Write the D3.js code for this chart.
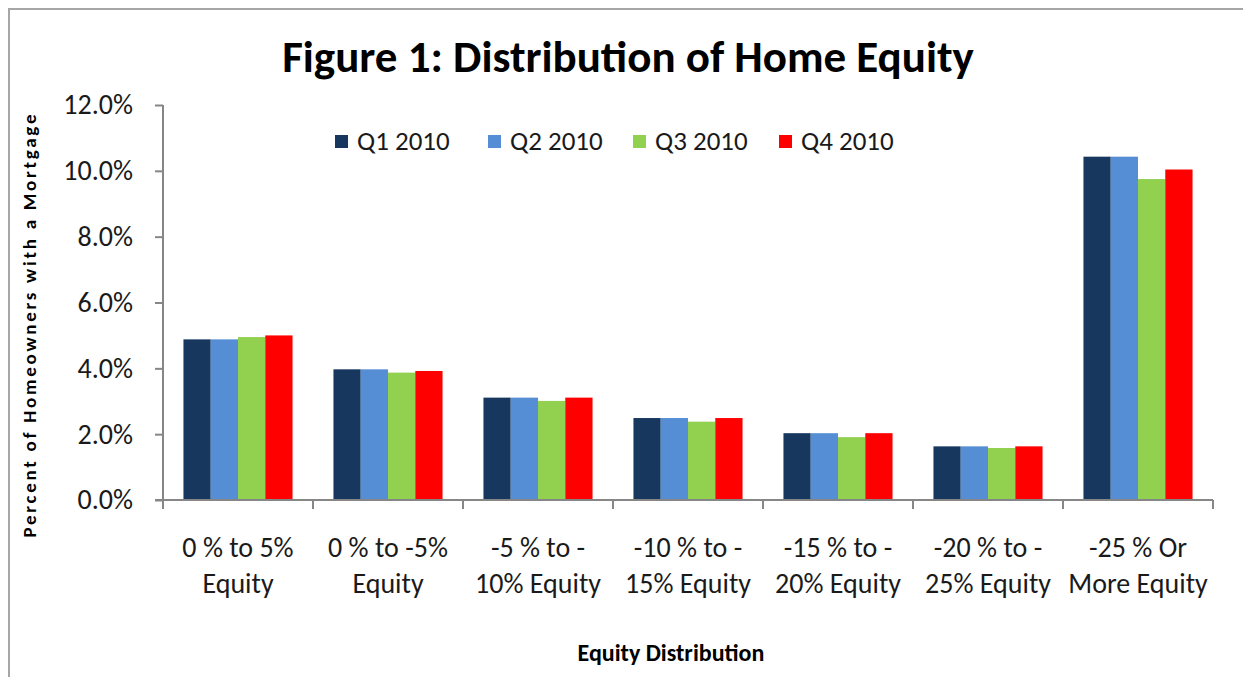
<!DOCTYPE html>
<html>
<head>
<meta charset="utf-8">
<script src="https://cdn.jsdelivr.net/npm/d3@7"></script>
<style>
  body { margin: 0; background: #fff; }
  svg { display: block; font-family: Carlito, Calibri, Lato, sans-serif; }
</style>
</head>
<body>
<svg id="chart" width="1243" height="677"></svg>
<script>
var categories = [
  ["0 % to 5%", "Equity"],
  ["0 % to -5%", "Equity"],
  ["-5 % to -", "10% Equity"],
  ["-10 % to -", "15% Equity"],
  ["-15 % to -", "20% Equity"],
  ["-20 % to -", "25% Equity"],
  ["-25 % Or", "More Equity"]
];
var seriesNames = ["Q1 2010", "Q2 2010", "Q3 2010", "Q4 2010"];
var seriesColors = ["#17375e", "#558ed5", "#92d050", "#ff0000"];
var q1 = [0.0488, 0.0397, 0.0311, 0.0249, 0.0203, 0.0163, 0.1043];
var q2 = [0.0488, 0.0397, 0.0311, 0.0249, 0.0203, 0.0163, 0.1043];
var q3 = [0.0495, 0.0387, 0.0301, 0.0238, 0.0191, 0.0158, 0.0975];
var q4 = [0.0500, 0.0392, 0.0311, 0.0249, 0.0203, 0.0163, 0.1004];
var yTicks = [0, 0.02, 0.04, 0.06, 0.08, 0.10, 0.12];

var values = [q1, q2, q3, q4];
var chart = d3.select("#chart");
var axisColor = "#868686";

// outer frame (only top and left edges visible)
chart.append("path")
  .attr("d", "M9,677V9H1243")
  .attr("fill", "none")
  .attr("stroke", "#a6a6a6")
  .attr("stroke-width", 2);

var x = d3.scaleBand()
  .domain(d3.range(categories.length))
  .range([163, 1213]);

var x1 = d3.scaleBand()
  .domain(d3.range(seriesNames.length))
  .range([0, x.bandwidth()])
  .paddingOuter(0.75);

var y = d3.scaleLinear().domain([0, 0.12]).range([500, 105]);

// bars
var groups = chart.append("g")
  .selectAll("g")
  .data(categories)
  .enter()
  .append("g")
  .attr("transform", function (d, i) { return "translate(" + x(i) + ",0)"; });

groups.selectAll("rect")
  .data(function (d, i) { return values.map(function (s, j) { return { s: j, v: s[i] }; }); })
  .enter()
  .append("rect")
  .attr("x", function (d) { return x1(d.s); })
  .attr("width", x1.bandwidth())
  .attr("y", function (d) { return y(d.v); })
  .attr("height", function (d) { return y(0) - y(d.v); })
  .attr("fill", function (d) { return seriesColors[d.s]; });

// y axis
var yAxis = chart.append("g")
  .attr("transform", "translate(163,0)")
  .call(d3.axisLeft(y).tickValues(yTicks).tickSize(8).tickPadding(22).tickFormat(d3.format(".1%")));
yAxis.select(".domain").attr("stroke", axisColor).attr("stroke-width", 2).attr("d", "M0,105V500");
yAxis.selectAll(".tick line").attr("stroke", axisColor).attr("stroke-width", 2);
yAxis.selectAll(".tick text")
  .attr("fill", "#1a1a1a")
  .attr("font-size", 28)
  .attr("font-family", "Carlito, Calibri, Lato, sans-serif");

// x axis
chart.append("line")
  .attr("x1", 155).attr("x2", x.range()[1])
  .attr("y1", y(0)).attr("y2", y(0))
  .attr("stroke", axisColor).attr("stroke-width", 2);

chart.append("g")
  .selectAll("line")
  .data(d3.range(categories.length + 1))
  .enter()
  .append("line")
  .attr("x1", function (i) { return x.range()[0] + i * x.step(); })
  .attr("x2", function (i) { return x.range()[0] + i * x.step(); })
  .attr("y1", y(0)).attr("y2", y(0) + 9)
  .attr("stroke", axisColor).attr("stroke-width", 2);

var labels = chart.append("g")
  .selectAll("text")
  .data(categories)
  .enter()
  .append("text")
  .attr("text-anchor", "middle")
  .attr("font-size", 28)
  .attr("fill", "#1a1a1a")
  .attr("x", function (d, i) { return x(i) + x.bandwidth() / 2; })
  .attr("y", 557);
labels.selectAll("tspan")
  .data(function (d) { return d; })
  .enter()
  .append("tspan")
  .attr("x", function () { return this.parentNode.getAttribute("x"); })
  .attr("dy", function (d, i) { return i === 0 ? 0 : 36; })
  .text(function (d) { return d; });

// legend
var legendX = [335, 488, 633, 779];
var legend = chart.append("g")
  .selectAll("g")
  .data(seriesNames)
  .enter()
  .append("g")
  .attr("transform", function (d, i) { return "translate(" + legendX[i] + ",141)"; });
legend.append("rect")
  .attr("x", 0).attr("y", -6).attr("width", 13).attr("height", 13)
  .attr("fill", function (d, i) { return seriesColors[i]; });
legend.append("text")
  .attr("x", 22).attr("y", 9)
  .attr("font-size", 27)
  .attr("fill", "#1a1a1a")
  .text(function (d) { return d; });

// titles
chart.append("text")
  .text("Figure 1: Distribution of Home Equity")
  .attr("x", 628).attr("y", 72)
  .attr("text-anchor", "middle")
  .attr("font-size", 45)
  .attr("font-weight", "bold")
  .attr("fill", "#000");

chart.append("text")
  .text("Percent of Homeowners with a  Mortgage")
  .attr("transform", "translate(36,326) rotate(-90)")
  .attr("text-anchor", "middle")
  .attr("font-size", 19)
  .attr("font-weight", "bold")
  .attr("textLength", 423)
  .attr("lengthAdjust", "spacing")
  .attr("fill", "#000");

chart.append("text")
  .text("Equity Distribution")
  .attr("x", 671).attr("y", 661)
  .attr("text-anchor", "middle")
  .attr("font-size", 24)
  .attr("font-weight", "bold")
  .attr("fill", "#000");
</script>
</body>
</html>
